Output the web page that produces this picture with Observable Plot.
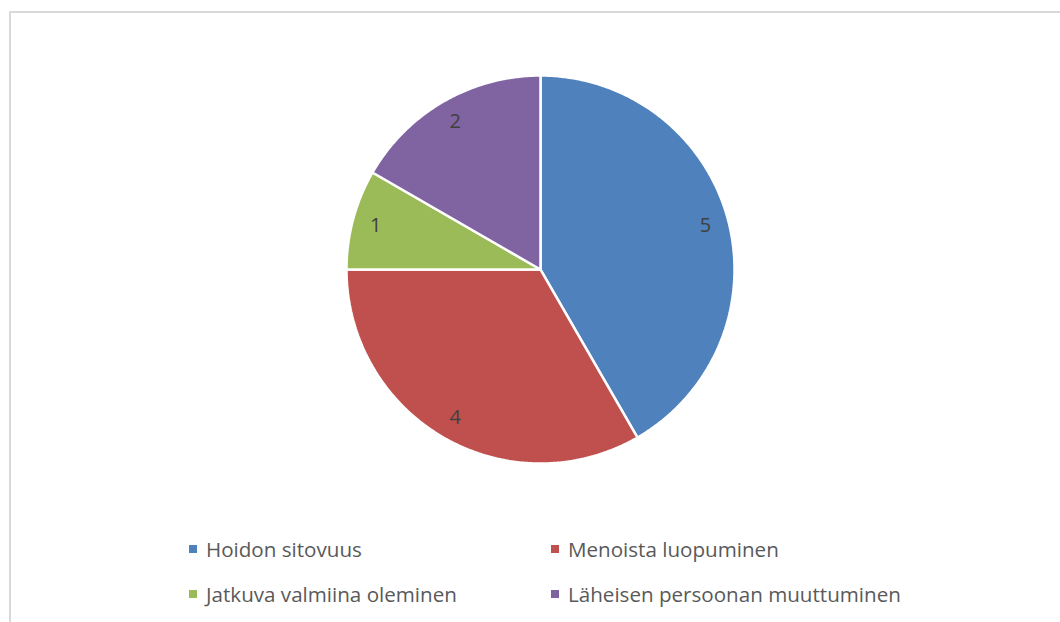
<!DOCTYPE html>
<html>
<head>
<meta charset="utf-8">
<script src="https://cdn.jsdelivr.net/npm/d3@7"></script>
<script src="https://cdn.jsdelivr.net/npm/@observablehq/plot@0.6"></script>
<style>
  html, body { margin: 0; padding: 0; background: #fff; width: 1060px; height: 622px; overflow: hidden; }
  #frame { position: absolute; left: 9px; top: 11px; width: 1100px; height: 700px; border: 2px solid #d9d9d9; box-sizing: border-box; }
  #chart { position: absolute; left: 0; top: 0; }
  #legend { position: absolute; left: 0; top: 534px; width: 1060px; font-family: "Open Sans", sans-serif; font-size: 20.6px; color: #595959; }
  .item { position: absolute; display: flex; align-items: center; white-space: nowrap; height: 30px; }
  .sw { width: 8px; height: 8px; margin-right: 9px; }
</style>
</head>
<body>
<div id="frame"></div>
<div id="chart"></div>
<div id="legend"></div>
<script>
const categories = ["Hoidon sitovuus", "Menoista luopuminen", "Jatkuva valmiina oleminen", "Läheisen persoonan muuttuminen"];
const values = [5, 4, 1, 2];
const colors = ["#4F81BD", "#C0504D", "#9BBB59", "#8064A2"];

const data = categories.map((name, i) => ({name, value: values[i]}));
const arcs = d3.pie().sort(null).value(d => d.value)(data);

// slice outlines in unit-circle coordinates
const pts = [];
for (const a of arcs) {
  const n = Math.max(2, Math.ceil((a.endAngle - a.startAngle) / 0.01));
  pts.push({name: a.data.name, x: 0, y: 0});
  for (let k = 0; k <= n; k++) {
    const t = a.startAngle + (a.endAngle - a.startAngle) * k / n;
    pts.push({name: a.data.name, x: Math.sin(t), y: Math.cos(t)});
  }
}
const labelR = 0.88;
const labels = arcs.map(a => {
  const m = (a.startAngle + a.endAngle) / 2;
  return {name: a.data.name, value: a.data.value, x: labelR * Math.sin(m), y: labelR * Math.cos(m)};
});

const plot = Plot.plot({
  width: 1060,
  height: 520,
  margin: 0,
  x: {domain: [-1, 1], range: [346, 734], axis: null},
  y: {domain: [-1, 1], range: [463, 75], axis: null},
  color: {domain: categories, range: colors},
  style: {background: "transparent", overflow: "visible"},
  marks: [
    Plot.line(pts, {x: "x", y: "y", z: "name", fill: "name", stroke: "white", strokeWidth: 2.5, curve: "linear-closed", strokeLinejoin: "miter"}),
    Plot.text(labels, {x: "x", y: "y", text: d => String(d.value), fill: "#404040", fontSize: 20, fontFamily: "Open Sans, sans-serif"})
  ]
});
document.getElementById("chart").appendChild(plot);

// legend
const legendPos = [[189, 0], [551, 0], [189, 45], [551, 45]];
const leg = document.getElementById("legend");
categories.forEach((c, i) => {
  const it = document.createElement("div");
  it.className = "item";
  it.style.left = legendPos[i][0] + "px";
  it.style.top = legendPos[i][1] + "px";
  const sw = document.createElement("span");
  sw.className = "sw";
  sw.style.background = colors[i];
  const tx = document.createElement("span");
  tx.textContent = c;
  it.appendChild(sw);
  it.appendChild(tx);
  leg.appendChild(it);
});
</script>
</body>
</html>
